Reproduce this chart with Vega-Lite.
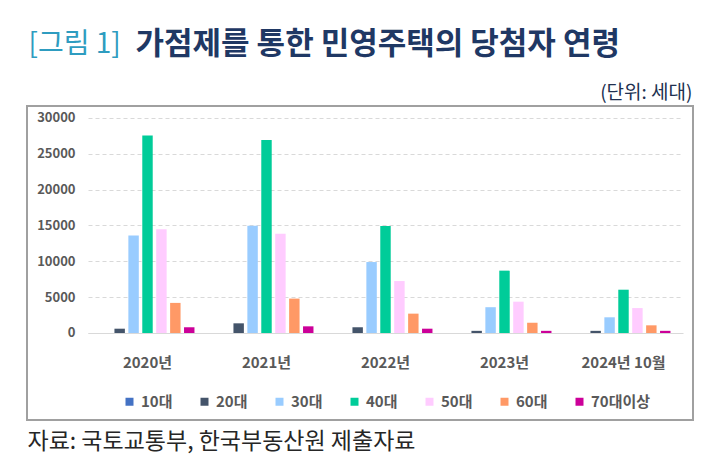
{
  "$schema": "https://vega.github.io/schema/vega-lite/v6.json",
  "width": 666,
  "height": 314,
  "autosize": {"type": "none"},
  "padding": {"left": 27, "top": 106, "right": 17, "bottom": 38},
  "background": "white",
  "view": {"stroke": "#a0a0a0", "strokeWidth": 2},
  "config": {"font": "Noto Sans CJK KR"},
  "data": {
    "values": [
      {"year": "2020년", "age": "10대", "count": 0},
      {"year": "2020년", "age": "20대", "count": 600},
      {"year": "2020년", "age": "30대", "count": 13600},
      {"year": "2020년", "age": "40대", "count": 27570},
      {"year": "2020년", "age": "50대", "count": 14460},
      {"year": "2020년", "age": "60대", "count": 4200},
      {"year": "2020년", "age": "70대이상", "count": 800},
      {"year": "2021년", "age": "10대", "count": 0},
      {"year": "2021년", "age": "20대", "count": 1350},
      {"year": "2021년", "age": "30대", "count": 14980},
      {"year": "2021년", "age": "40대", "count": 26920},
      {"year": "2021년", "age": "50대", "count": 13860},
      {"year": "2021년", "age": "60대", "count": 4800},
      {"year": "2021년", "age": "70대이상", "count": 930},
      {"year": "2022년", "age": "10대", "count": 0},
      {"year": "2022년", "age": "20대", "count": 800},
      {"year": "2022년", "age": "30대", "count": 9900},
      {"year": "2022년", "age": "40대", "count": 14930},
      {"year": "2022년", "age": "50대", "count": 7250},
      {"year": "2022년", "age": "60대", "count": 2700},
      {"year": "2022년", "age": "70대이상", "count": 600},
      {"year": "2023년", "age": "10대", "count": 0},
      {"year": "2023년", "age": "20대", "count": 300},
      {"year": "2023년", "age": "30대", "count": 3600},
      {"year": "2023년", "age": "40대", "count": 8700},
      {"year": "2023년", "age": "50대", "count": 4370},
      {"year": "2023년", "age": "60대", "count": 1430},
      {"year": "2023년", "age": "70대이상", "count": 300},
      {"year": "2024년 10월", "age": "10대", "count": 0},
      {"year": "2024년 10월", "age": "20대", "count": 300},
      {"year": "2024년 10월", "age": "30대", "count": 2190},
      {"year": "2024년 10월", "age": "40대", "count": 6040},
      {"year": "2024년 10월", "age": "50대", "count": 3480},
      {"year": "2024년 10월", "age": "60대", "count": 1070},
      {"year": "2024년 10월", "age": "70대이상", "count": 300}
    ]
  },
  "layer": [
    {
      "mark": {"type": "bar"},
      "encoding": {
        "x": {
          "field": "year", "type": "nominal",
          "scale": {"range": [61, 656], "paddingInner": 0, "paddingOuter": 0},
          "axis": {
            "orient": "bottom", "offset": -87, "domain": true, "domainColor": "#d9d9d9", "domainWidth": 1,
            "ticks": false, "grid": false, "labelAngle": 0, "labelPadding": 22,
            "labelFontSize": 15, "labelFontWeight": "bold", "labelColor": "#595959",
            "title": "자료: 국토교통부, 한국부동산원 제출자료",
            "titleX": 0, "titleY": 108, "titleAlign": "left", "titleBaseline": "middle",
            "titleFontSize": 23, "titleFontWeight": "normal", "titleColor": "#262626"
          }
        },
        "xOffset": {"field": "age", "type": "nominal", "scale": {"paddingInner": 0.25, "paddingOuter": 0.9}},
        "y": {
          "field": "count", "type": "quantitative",
          "scale": {"domain": [-12140, 31674], "nice": false, "zero": false},
          "axis": {
            "orient": "left", "offset": -61, "values": [0, 5000, 10000, 15000, 20000, 25000, 30000],
            "format": "d",
            "domain": false, "ticks": false, "labelPadding": 13,
            "labelFontSize": 13, "labelFontWeight": "bold", "labelColor": "#595959",
            "grid": true, "gridColor": "#d9d9d9", "gridDash": [4, 3],
            "title": "(단위: 세대)", "titleX": 604, "titleY": -14, "titleAlign": "right", "titleBaseline": "middle",
            "titleAngle": 0, "titleFontSize": 19, "titleFontWeight": "normal", "titleColor": "#203050"
          }
        },
        "color": {
          "field": "age", "type": "nominal",
          "scale": {
            "domain": ["10대", "20대", "30대", "40대", "50대", "60대", "70대이상"],
            "range": ["#4472c4", "#44546a", "#99ccff", "#00cc99", "#ffccff", "#ff9966", "#cc0099"]
          },
          "legend": {
            "orient": "none", "legendX": 95, "legendY": 288, "direction": "horizontal", "columns": 7,
            "title": null, "symbolType": "square", "symbolSize": 64, "symbolStrokeWidth": 0,
            "labelFontSize": 15, "labelFontWeight": "bold", "labelColor": "#595959",
            "columnPadding": 24, "labelOffset": 4, "padding": 0
          }
        }
      }
    },
    {
      "mark": {"type": "point", "opacity": 0},
      "encoding": {
        "x": {
          "field": "year", "type": "nominal",
          "axis": {
            "orient": "top", "labels": false, "ticks": false, "domain": false, "grid": false,
            "title": "가점제를 통한 민영주택의 당첨자 연령",
            "titleX": 108, "titleY": -62, "titleAlign": "left", "titleBaseline": "middle",
            "titleFontSize": 31, "titleFontWeight": "bold", "titleColor": "#1f3864"
          }
        },
        "y": {
          "field": "count", "type": "quantitative",
          "axis": {
            "orient": "right", "labels": false, "ticks": false, "domain": false, "grid": false,
            "title": "[그림 1]",
            "titleX": -665, "titleY": -62, "titleAlign": "left", "titleBaseline": "middle", "titleAngle": 0,
            "titleFontSize": 28, "titleFontWeight": "normal", "titleColor": "#2e9cc0"
          }
        }
      }
    }
  ],
  "resolve": {"axis": {"x": "independent", "y": "independent"}}
}
